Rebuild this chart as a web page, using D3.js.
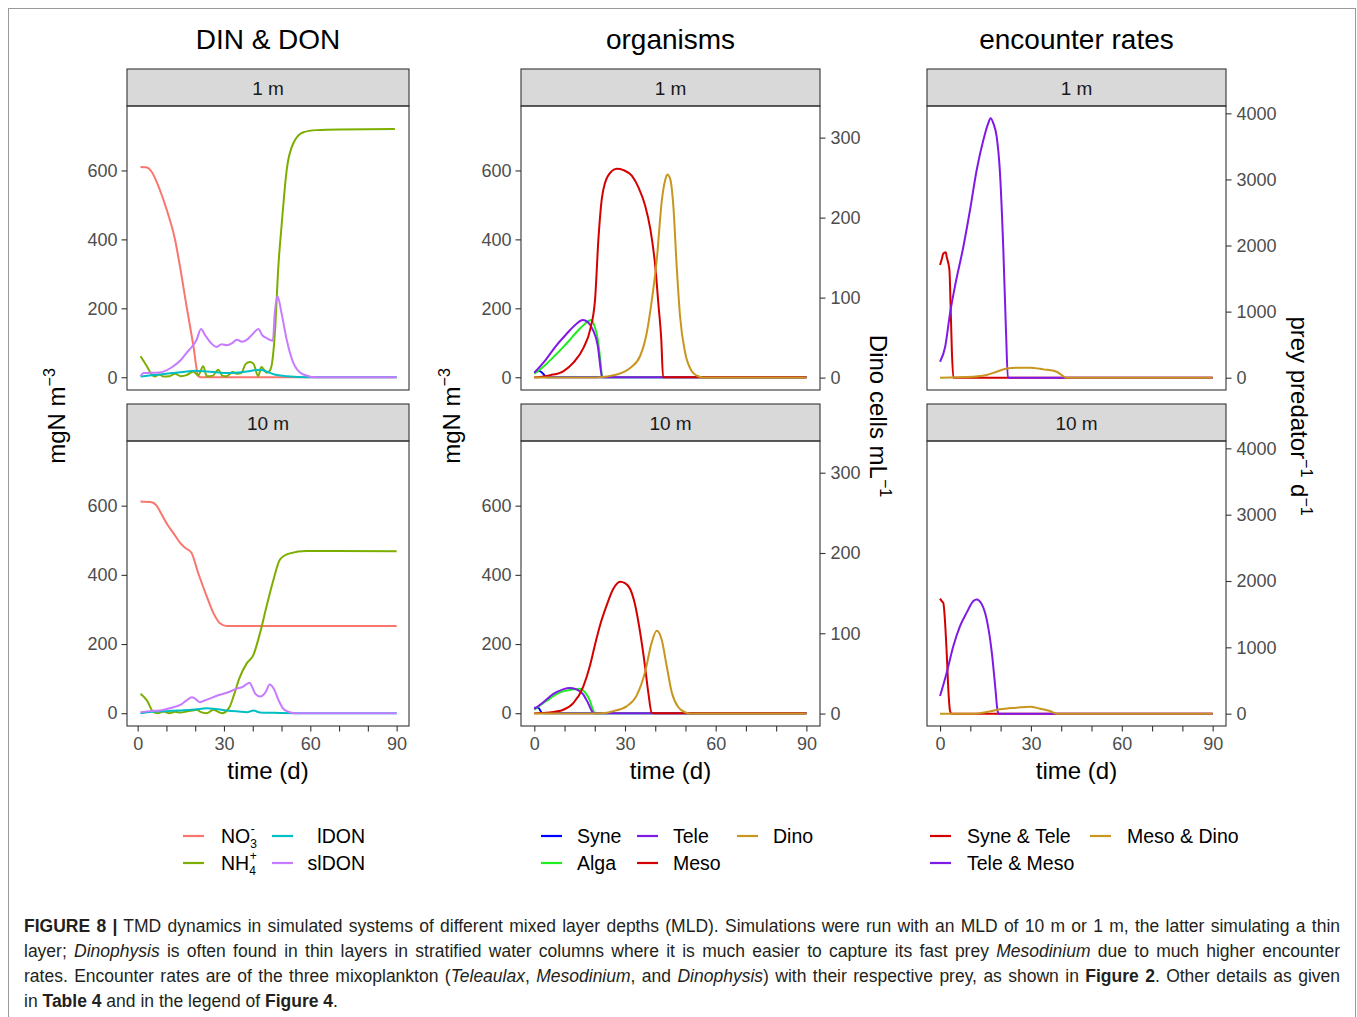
<!DOCTYPE html>
<html>
<head>
<meta charset="utf-8">
<script src="https://cdn.jsdelivr.net/npm/d3@7"></script>
<style>
  body { margin: 0; background: #fff; }
  svg text { font-family: "Liberation Sans", Arial, Helvetica, sans-serif; }
</style>
</head>
<body>
<svg id="fig" width="1357" height="1017"></svg>
<script>
// ---- data: [time (d), value] ----
// DIN & DON, mgN m-3
const no3_1m = [[1,610],[3,609],[4.8,597],[7.7,544],[10.1,486],[13,399],[14.7,322],[17,206],[19.4,90],[21.1,3],[22,0],[40,0],[90,0]];
const nh4_1m = [[1,61],[3.2,32],[4.9,8],[6,2],[7.5,8],[9,2],[11,3],[13,10],[15,3],[17,6],[19.4,17],[21,5],[22.8,32],[24,3],[26,4],[28,22],[29.5,4],[31,3],[33,15],[34.5,10],[36,12],[37.5,38],[39,44],[40.2,40],[41.9,3],[43,30],[44.8,13],[46,20],[47,60],[47.7,129],[48.9,322],[50,438],[51.8,602],[54.1,679],[57.6,711],[62.2,717],[70,719],[89.4,720]];
const ldon_1m = [[1,2],[4,5],[7.7,8],[12,12],[17,17],[20,19],[24,17],[28,14],[31,12],[35,14],[38,17],[42.6,22],[45,16],[47.5,8],[52,3],[59,0],[90,0]];
const sldon_1m = [[1,3],[2,12],[7.7,14],[10,20],[12.4,32],[15,50],[17,71],[19,90],[20.5,109],[22,140],[23.4,123],[25.1,103],[27.4,88],[29.2,96],[31,93],[32.7,98],[34.5,109],[36.2,103],[38,109],[39.7,123],[42,140],[43.2,123],[44.9,113],[47,106],[47.6,180],[48.6,235],[50,186],[51.8,109],[54.1,42],[57.6,8],[62,0],[90,0]];
const no3_10m = [[1,612],[4.9,610],[6.6,600],[8.5,572],[10.6,542],[12.5,520],[14.7,493],[16.5,478],[18.7,464],[21,406],[24,338],[26.3,290],[28.6,260],[31,252],[90,252]];
const nh4_10m = [[1,56],[3.2,37],[5.5,3],[7,0],[9,5],[11,0],[13,4],[15,2],[17,5],[19,8],[20.5,10],[22,3],[24,0],[26.3,10],[28,4],[29.5,0],[31.3,10],[31.9,17],[33.6,56],[35.3,100],[37.9,144],[40.2,168],[42.5,231],[44.8,309],[47.2,386],[49.5,445],[52.9,462],[58.7,469],[90,468]];
const ldon_10m = [[1,0],[5,4],[10,6],[14.7,8],[20,11],[24,14],[27,12],[31,8],[35,5],[38,3],[40.2,8],[42.5,2],[47,1],[55,0],[90,0]];
const sldon_10m = [[1,3],[4,6],[7.7,8],[10,12],[12.4,17],[15,25],[17,37],[18.8,46],[20,42],[21.6,32],[23,36],[25,42],[28,52],[31,59],[34.5,71],[36.5,76],[38,85],[38.9,88],[40,72],[40.9,56],[42.6,48],[44.4,60],[45.9,83],[47.3,71],[49,37],[50.7,12],[52.5,4],[54.2,0],[90,0]];

// organisms, mgN m-3 (Dino in cells mL-1, right axis)
const syne_1m = [[0,14],[1.6,18],[2.5,14],[3.3,6],[3.9,0],[90,0]];
const alga_1m = [[0,10],[3.9,38],[6.5,60],[9.4,86],[11.5,106],[13.8,129],[16.6,154],[18.8,166],[19.9,149],[21,110],[21.8,52],[22.4,4],[22.8,0],[90,0]];
const tele_1m = [[0,13],[3.9,52],[7.2,91],[10.5,124],[13.8,154],[16,166],[17.7,160],[19.3,139],[21,91],[22.1,14],[22.4,0],[90,0]];
const meso_1m = [[0,0],[2,1],[5.3,6],[9.7,18],[13,43],[16.3,86],[18.5,139],[20.1,226],[21.2,400],[22.3,516],[23.4,564],[25.6,598],[27.3,605],[29.5,601],[32.3,584],[34.5,550],[36.7,497],[38.4,429],[40,323],[41.1,207],[42,110],[42.6,0],[90,0]];
const dino_1m = [[0,0],[20,0],[24,1.5],[27.3,3.8],[31.7,12],[35,27],[37.2,56],[38.9,97.5],[40.5,147],[42.2,222],[43.3,247],[44,254],[44.9,249],[46,214],[47.1,139],[48.2,77],[49.9,31],[52.1,8],[54,2],[56,0],[90,0]];
const syne_10m = [[0,16],[1.3,16],[2.4,2],[3,0],[90,0]];
const alga_10m = [[0,10],[4.1,36],[8.5,60],[12.9,69],[15.1,71],[16.8,60],[18.4,36],[19.5,7],[20,0],[90,0]];
const tele_10m = [[0,12],[2.9,31],[6.2,55],[9.5,69],[11.7,73],[13.9,69],[16.1,55],[17.7,31],[19.4,2],[19.8,0],[90,0]];
const meso_10m = [[0,0],[5,2],[9.6,10],[12.9,29],[16.2,77],[18.4,137],[20,195],[21.7,253],[23.9,311],[26.1,359],[28.4,380],[30,376],[31.7,359],[33.3,315],[35,234],[36.6,137],[37.7,60],[38.8,2],[39.5,0],[90,0]];
const dino_10m = [[0,0],[20.6,0],[24,1],[26.1,3],[30.5,9],[33.8,22],[36.6,51],[38.8,88],[40.5,103],[42.1,92.5],[43.8,59],[45.5,26],[47.7,7.5],[50,1.5],[51.5,0],[90,0]];

// encounter rates, prey predator-1 d-1
const syneTele_1m = [[0,1705],[0.5,1780],[1.1,1880],[1.9,1900],[2.2,1830],[3.1,1630],[3.5,1074],[3.9,419],[4.4,0],[90,0]];
const teleMeso_1m = [[0,242],[1.7,469],[3.3,974],[4.9,1377],[7.7,1982],[9.9,2537],[12.1,3142],[14.3,3596],[15.9,3849],[16.7,3924],[17.6,3849],[18.7,3646],[19.8,3092],[20.9,1932],[21.8,671],[22.4,0],[90,0]];
const mesoDino_1m = [[0,0],[11,15],[15.4,40],[18.7,91],[22,141],[25.3,151],[29.7,151],[34.1,126],[38.5,91],[41.8,0],[90,0]];
const syneTele_10m = [[0,1734],[0.5,1700],[1.1,1665],[1.6,1422],[2.2,920],[2.8,317],[3.3,40],[3.8,0],[90,0]];
const teleMeso_10m = [[0,265],[2.2,618],[4.4,1020],[6.6,1321],[8.8,1523],[11,1698],[12.1,1723],[13.8,1648],[15.4,1422],[17.1,920],[18.2,416],[19,40],[19.3,0],[90,0]];
const mesoDino_10m = [[0,0],[11,0],[15.4,25],[19.8,65],[25.3,90],[29.7,106],[33,75],[36.3,40],[38.5,0],[90,0]];

// ticks / labels
const layers = ["1 m", "10 m"];
const xTicks = [0,10,20,30,40,50,60,70,80,90];
const xLabelled = [0,30,60,90];
const mgTicks = [0,200,400,600];
const dinoTicks = [0,100,200,300];
const encTicks = [0,1000,2000,3000,4000];

// ---- layout ----
const svg = d3.select("#fig");
svg.append("rect").attr("width",1357).attr("height",1017).attr("fill","#fff");
svg.append("rect").attr("x",8.5).attr("y",8.5).attr("width",1347).attr("height",1100)
  .attr("fill","none").attr("stroke","#9a9a9a");

const rows = [{strip:69, top:106, bottom:390}, {strip:404, top:441, bottom:726}];
const ink = "#333333";

const columns = [
  { title:"DIN & DON", x0:127, x1:409, xDom:[-3.7,94.3], left:[-37,787], right:null, rightTicks:null, leftAxis:true,
    series:[
      {name:"NO3", color:"#F8766D", data:[no3_1m,no3_10m], axis:"left"},
      {name:"NH4", color:"#7CAE00", data:[nh4_1m,nh4_10m], axis:"left"},
      {name:"lDON", color:"#00BFC4", data:[ldon_1m,ldon_10m], axis:"left"},
      {name:"slDON", color:"#C77CFF", data:[sldon_1m,sldon_10m], axis:"left"}
    ]},
  { title:"organisms", x0:521, x1:820, xDom:[-4.4,94.5], left:[-37,787], right:[-15.5,339.5], rightTicks:dinoTicks, leftAxis:true,
    series:[
      {name:"Syne", color:"#0000FF", data:[syne_1m,syne_10m], axis:"left"},
      {name:"Alga", color:"#1EEE1E", data:[alga_1m,alga_10m], axis:"left"},
      {name:"Tele", color:"#7F1AE6", data:[tele_1m,tele_10m], axis:"left"},
      {name:"Meso", color:"#D40000", data:[meso_1m,meso_10m], axis:"left"},
      {name:"Dino", color:"#C8961E", data:[dino_1m,dino_10m], axis:"right"}
    ]},
  { title:"encounter rates", x0:927, x1:1226, xDom:[-4.3,94.4], left:null, right:[-186,4111], rightTicks:encTicks, leftAxis:false,
    series:[
      {name:"Syne & Tele", color:"#D40000", data:[syneTele_1m,syneTele_10m], axis:"right"},
      {name:"Tele & Meso", color:"#7F1AE6", data:[teleMeso_1m,teleMeso_10m], axis:"right"},
      {name:"Meso & Dino", color:"#C8961E", data:[mesoDino_1m,mesoDino_10m], axis:"right"}
    ]}
];

function styleAxis(g) {
  g.select(".domain").remove();
  g.selectAll(".tick line").attr("stroke", ink).attr("stroke-width", 1.1);
  g.selectAll(".tick text").attr("fill", "#4d4d4d").attr("font-size", 18)
    .attr("font-family", "Liberation Sans, Arial, sans-serif");
  // unlabelled minor ticks keep only their mark
  g.selectAll(".tick text").filter(function() { return this.textContent === ""; }).remove();
}

columns.forEach(col => {
  const x = d3.scaleLinear().domain(col.xDom).range([col.x0, col.x1]);

  svg.append("text").attr("x", (col.x0 + col.x1) / 2).attr("y", 49)
    .attr("text-anchor", "middle").attr("font-size", 28).attr("fill", "#000").text(col.title);

  rows.forEach((row, ri) => {
    const yL = col.left ? d3.scaleLinear().domain(col.left).range([row.bottom, row.top]) : null;
    const yR = col.right ? d3.scaleLinear().domain(col.right).range([row.bottom, row.top]) : null;

    // strip
    svg.append("rect").attr("x", col.x0).attr("y", row.strip)
      .attr("width", col.x1 - col.x0).attr("height", row.top - row.strip)
      .attr("fill", "#d9d9d9").attr("stroke", ink).attr("stroke-width", 1.1);
    svg.append("text").attr("x", (col.x0 + col.x1) / 2).attr("y", (row.strip + row.top) / 2 + 7)
      .attr("text-anchor", "middle").attr("font-size", 19).attr("fill", "#1a1a1a").text(layers[ri]);

    // lines
    const g = svg.append("g");
    col.series.forEach(s => {
      const y = s.axis === "left" ? yL : yR;
      const line = d3.line().x(d => x(d[0])).y(d => y(d[1])).curve(d3.curveMonotoneX);
      g.append("path").datum(s.data[ri]).attr("d", line)
        .attr("fill", "none").attr("stroke", s.color).attr("stroke-width", 2)
        .attr("stroke-linejoin", "round");
    });

    // panel border
    svg.append("rect").attr("x", col.x0).attr("y", row.top)
      .attr("width", col.x1 - col.x0).attr("height", row.bottom - row.top)
      .attr("fill", "none").attr("stroke", ink).attr("stroke-width", 1.1);

    if (col.leftAxis) {
      svg.append("g").attr("transform", `translate(${col.x0},0)`)
        .call(d3.axisLeft(yL).tickValues(mgTicks).tickSize(5.5).tickPadding(4).tickFormat(d3.format("d")))
        .call(styleAxis);
    }
    if (yR) {
      svg.append("g").attr("transform", `translate(${col.x1},0)`)
        .call(d3.axisRight(yR).tickValues(col.rightTicks).tickSize(5.5).tickPadding(5).tickFormat(d3.format("d")))
        .call(styleAxis);
    }
    if (ri === 1) {
      svg.append("g").attr("transform", `translate(0,${row.bottom})`)
        .call(d3.axisBottom(x).tickValues(xTicks).tickSize(5.5).tickPadding(6)
          .tickFormat(d => xLabelled.includes(d) ? d : "")).call(styleAxis);
      svg.append("text").attr("x", (col.x0 + col.x1) / 2).attr("y", 779)
        .attr("text-anchor", "middle").attr("font-size", 24).attr("fill", "#000").text("time (d)");
    }
  });
});

// ---- axis titles ----
function rotTitle(xp, yp, angle, parts) {
  const t = svg.append("text").attr("transform", `translate(${xp},${yp}) rotate(${angle})`)
    .attr("text-anchor", "middle").attr("font-size", 24).attr("fill", "#000");
  let raised = false;
  parts.forEach(p => {
    if (p.sup) {
      t.append("tspan").attr("dy", raised ? 0 : -10).attr("font-size", 16).text(p.sup);
      raised = true;
    } else {
      t.append("tspan").attr("dy", raised ? 10 : 0).attr("font-size", 24).text(p.txt);
      raised = false;
    }
  });
}
rotTitle(65, 416, -90, [{txt:"mgN m"}, {sup:"\u22123"}]);
rotTitle(460, 416, -90, [{txt:"mgN m"}, {sup:"\u22123"}]);
rotTitle(870, 416, 90, [{txt:"Dino cells mL"}, {sup:"\u22121"}]);
rotTitle(1291, 416, 90, [{txt:"prey predator"}, {sup:"\u22121"}, {txt:" d"}, {sup:"\u22121"}]);

// ---- legends ----
const rowY = [836, 863];
function key(x0, yy, color) {
  svg.append("line").attr("x1", x0).attr("x2", x0 + 21).attr("y1", yy).attr("y2", yy)
    .attr("stroke", color).attr("stroke-width", 2.2);
}
function label(xp, yy, txt, anchor) {
  return svg.append("text").attr("x", xp).attr("y", yy + 7).attr("font-size", 19.5)
    .attr("text-anchor", anchor || "start").attr("fill", "#000").text(txt);
}
function chemLabel(xp, yy, base, sup, sub) {
  const t = label(xp, yy, base);
  const w = t.node().getComputedTextLength();
  svg.append("text").attr("x", xp + w + 0.5).attr("y", yy - 3).attr("font-size", 12).attr("fill", "#000").text(sup);
  svg.append("text").attr("x", xp + w).attr("y", yy + 12).attr("font-size", 12).attr("fill", "#000").text(sub);
}
const din = columns[0].series, org = columns[1].series, enc = columns[2].series;
key(183, rowY[0], din[0].color); chemLabel(221, rowY[0], "NO", "-", "3");
key(183, rowY[1], din[1].color); chemLabel(221, rowY[1], "NH", "+", "4");
key(272, rowY[0], din[2].color); label(365, rowY[0], din[2].name, "end");
key(272, rowY[1], din[3].color); label(365, rowY[1], din[3].name, "end");

const orgPos = [[541,0],[541,1],[637,0],[637,1],[737,0]];
org.forEach((s, k) => {
  key(orgPos[k][0], rowY[orgPos[k][1]], s.color);
  label(orgPos[k][0] + 36, rowY[orgPos[k][1]], s.name);
});
const encPos = [[930,0],[930,1],[1090,0]];
enc.forEach((s, k) => {
  key(encPos[k][0], rowY[encPos[k][1]], s.color);
  label(encPos[k][0] + 37, rowY[encPos[k][1]], s.name);
});

// ---- caption ----
const captionLines = [
  [["b","FIGURE 8 |"],["n"," TMD dynamics in simulated systems of different mixed layer depths (MLD). Simulations were run with an MLD of 10 m or 1 m, the latter simulating a thin"]],
  [["n","layer; "],["i","Dinophysis"],["n"," is often found in thin layers in stratified water columns where it is much easier to capture its fast prey "],["i","Mesodinium"],["n"," due to much higher encounter"]],
  [["n","rates. Encounter rates are of the three mixoplankton ("],["i","Teleaulax"],["n",", "],["i","Mesodinium"],["n",", and "],["i","Dinophysis"],["n",") with their respective prey, as shown in "],["b","Figure 2"],["n",". Other details as given"]],
  [["n","in "],["b","Table 4"],["n"," and in the legend of "],["b","Figure 4"],["n","."]]
];
const capX = 24, capRight = 1340, capY0 = 932, capStep = 25;
let capSize = 17.5;
const capNodes = captionLines.map((parts, li) => {
  const t = svg.append("text").attr("x", capX).attr("y", capY0 + li * capStep)
    .attr("font-size", capSize).attr("fill", "#231f20").attr("xml:space", "preserve");
  parts.forEach(p => {
    const ts = t.append("tspan").text(p[1]);
    if (p[0] === "b") ts.attr("font-weight", "bold");
    if (p[0] === "i") ts.attr("font-style", "italic");
  });
  return t;
});
// fit the longest line, then justify the first three lines
const maxW = d3.max(capNodes.slice(0, 3), t => t.node().getComputedTextLength());
if (maxW > (capRight - capX) * 0.985) {
  capSize = capSize * (capRight - capX) * 0.985 / maxW;
  capNodes.forEach(t => t.attr("font-size", capSize));
}
capNodes.slice(0, 3).forEach((t, li) => {
  const w = t.node().getComputedTextLength();
  const spaces = captionLines[li].map(p => p[1]).join("").split(" ").length - 1;
  t.attr("word-spacing", ((capRight - capX) - w) / spaces);
});
</script>
</body>
</html>
